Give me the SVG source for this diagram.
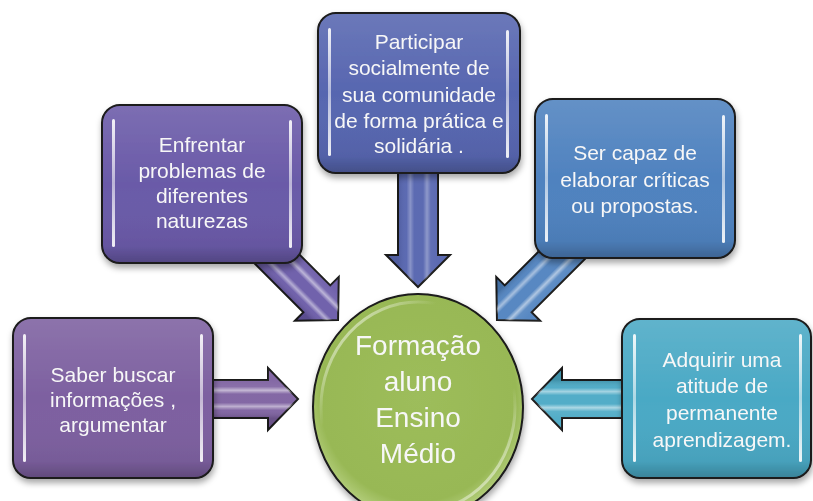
<svg xmlns="http://www.w3.org/2000/svg" width="813" height="501" viewBox="0 0 813 501">
<defs>
<filter id="sh" x="-10%" y="-10%" width="125%" height="130%">
<feDropShadow dx="1" dy="4" stdDeviation="3" flood-color="#000" flood-opacity="0.35"/>
</filter>
<linearGradient id="shade" x1="0" y1="0" x2="0" y2="1">
<stop offset="0" stop-color="#fff" stop-opacity="0.12"/>
<stop offset="0.5" stop-color="#fff" stop-opacity="0"/>
<stop offset="0.9" stop-color="#000" stop-opacity="0.05"/>
<stop offset="1" stop-color="#000" stop-opacity="0.22"/>
</linearGradient>
<linearGradient id="bar" x1="0" y1="0" x2="0" y2="1">
<stop offset="0" stop-color="#fff" stop-opacity="0.9"/>
<stop offset="0.5" stop-color="#fff" stop-opacity="0.55"/>
<stop offset="1" stop-color="#fff" stop-opacity="0.9"/>
</linearGradient>
<linearGradient id="sheen" x1="0" y1="0" x2="0" y2="1">
<stop offset="0.19" stop-color="#fff" stop-opacity="0.05"/>
<stop offset="0.3" stop-color="#fff" stop-opacity="0.1"/>
<stop offset="0.36" stop-color="#fff" stop-opacity="0.55"/>
<stop offset="0.42" stop-color="#fff" stop-opacity="0.05"/>
<stop offset="0.56" stop-color="#fff" stop-opacity="0.05"/>
<stop offset="0.62" stop-color="#fff" stop-opacity="0.5"/>
<stop offset="0.68" stop-color="#fff" stop-opacity="0.05"/>
<stop offset="0.81" stop-color="#000" stop-opacity="0.15"/>
</linearGradient>
<linearGradient id="ring" x1="0" y1="0" x2="1" y2="1">
<stop offset="0" stop-color="#fff" stop-opacity="0.9"/>
<stop offset="0.3" stop-color="#fff" stop-opacity="0"/>
<stop offset="0.7" stop-color="#fff" stop-opacity="0"/>
<stop offset="1" stop-color="#fff" stop-opacity="0.9"/>
</linearGradient>
<radialGradient id="ball" cx="0.5" cy="0.45" r="0.55">
<stop offset="0" stop-color="#9dbd5b"/>
<stop offset="0.85" stop-color="#98b855"/>
<stop offset="1" stop-color="#b5cf7e"/>
</radialGradient>
</defs>
<style>
.box{stroke:#1a1a1a;stroke-width:2}
.ov{fill:url(#shade)}
.bar{fill:url(#bar)}
.arr{stroke:#1a1a1a;stroke-width:2;stroke-linejoin:miter}
.sheen{fill:url(#sheen)}
text{font-family:"Liberation Sans",Arial,sans-serif;fill:#f7f7f7;text-anchor:middle;font-size:21px}
.big{font-size:28px}
</style>

<g id="connectors">
<g transform="translate(200,399)">
<path class="arr" fill="#7d60a0" d="M0,-19H68V-31L98,0L68,31V19H0Z"/>
<path class="sheen" d="M0,-19H68V-31L98,0L68,31V19H0Z"/>
</g>
<g transform="translate(640,399) rotate(180)">
<path class="arr" fill="#4aa9c5" d="M0,-19H78V-31L108,0L78,31V19H0Z"/>
<path class="sheen" d="M0,-19H78V-31L108,0L78,31V19H0Z"/>
</g>
<g transform="translate(418,160) rotate(90)">
<path class="arr" fill="#5766b0" d="M0,-20H95V-32L127,0L95,32V20H0Z"/>
<path class="sheen" d="M0,-20H95V-32L127,0L95,32V20H0Z" opacity="0.6"/>
</g>
<g transform="translate(250,232) rotate(45)">
<path class="arr" fill="#6a5aa8" d="M0,-19H94.5V-31L124.5,0L94.5,31V19H0Z"/>
<path class="sheen" d="M0,-19H94.5V-31L124.5,0L94.5,31V19H0Z"/>
</g>
<g transform="translate(585,232) rotate(135)">
<path class="arr" fill="#4f82bf" d="M0,-19H94.5V-31L124.5,0L94.5,31V19H0Z"/>
<path class="sheen" d="M0,-19H94.5V-31L124.5,0L94.5,31V19H0Z"/>
</g>
</g>

<g id="node-left" filter="url(#sh)">
<rect class="box" x="13" y="318" width="200" height="160" rx="18" fill="#7d60a0"/>
<rect class="ov" x="14" y="319" width="198" height="158" rx="17"/>
<rect class="bar" x="23" y="334" width="3" height="128" rx="1.5"/>
<rect class="bar" x="200" y="334" width="3" height="128" rx="1.5"/>
<text x="113" y="382">Saber buscar</text>
<text x="113" y="407">informações ,</text>
<text x="113" y="432">argumentar</text>
</g>

<g id="node-upper-left" filter="url(#sh)">
<rect class="box" x="102" y="105" width="200" height="158" rx="18" fill="#6a5aa8"/>
<rect class="ov" x="103" y="106" width="198" height="156" rx="17"/>
<rect class="bar" x="112" y="119" width="3" height="128" rx="1.5"/>
<rect class="bar" x="289" y="120" width="3" height="128" rx="1.5"/>
<text x="202" y="152">Enfrentar</text>
<text x="202" y="178">problemas de</text>
<text x="202" y="203">diferentes</text>
<text x="202" y="228">naturezas</text>
</g>

<g id="node-top" filter="url(#sh)">
<rect class="box" x="318" y="13" width="202" height="160" rx="18" fill="#5766b0"/>
<rect class="ov" x="319" y="14" width="200" height="158" rx="17"/>
<rect class="bar" x="328" y="28" width="3" height="128" rx="1.5"/>
<rect class="bar" x="506" y="30" width="3" height="128" rx="1.5"/>
<text x="419" y="49">Participar</text>
<text x="419" y="75">socialmente de</text>
<text x="419" y="102">sua comunidade</text>
<text x="419" y="128">de forma prática e</text>
<text x="419" y="153">solidária .</text>
</g>

<g id="node-upper-right" filter="url(#sh)">
<rect class="box" x="535" y="99" width="200" height="159" rx="18" fill="#4f82bf"/>
<rect class="ov" x="536" y="100" width="198" height="157" rx="17"/>
<rect class="bar" x="545" y="114" width="3" height="128" rx="1.5"/>
<rect class="bar" x="722" y="115" width="3" height="128" rx="1.5"/>
<text x="635" y="160">Ser capaz de</text>
<text x="635" y="187">elaborar críticas</text>
<text x="635" y="213">ou propostas.</text>
</g>

<g id="node-right" filter="url(#sh)">
<rect class="box" x="622" y="319" width="189" height="159" rx="18" fill="#4aa9c5"/>
<rect class="ov" x="623" y="320" width="187" height="157" rx="17"/>
<rect class="bar" x="633" y="334" width="3" height="128" rx="1.5"/>
<rect class="bar" x="799" y="334" width="3" height="128" rx="1.5"/>
<text x="722" y="367">Adquirir uma</text>
<text x="722" y="393">atitude de</text>
<text x="722" y="420">permanente</text>
<text x="722" y="447">aprendizagem.</text>
</g>

<g id="node-center" filter="url(#sh)">
<ellipse cx="418" cy="407" rx="105" ry="113" fill="url(#ball)" stroke="#1a1a1a" stroke-width="2"/>
<ellipse cx="418" cy="407" rx="97" ry="105" fill="none" stroke="url(#ring)" stroke-width="3"/>
<text class="big" x="418" y="355">Formação</text>
<text class="big" x="418" y="391">aluno</text>
<text class="big" x="418" y="427">Ensino</text>
<text class="big" x="418" y="463">Médio</text>
</g>
</svg>
